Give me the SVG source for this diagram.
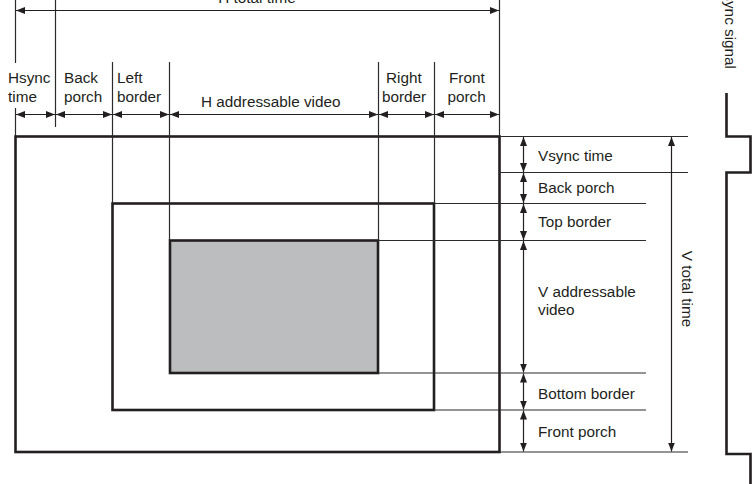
<svg xmlns="http://www.w3.org/2000/svg" width="754" height="484" viewBox="0 0 754 484">
<style>
text{font-family:"Liberation Sans",Arial,sans-serif;font-size:15.3px;fill:#231f20}
.thin{stroke:#2b2b2b;stroke-width:1.2;fill:none}
.thick{stroke:#231f20;stroke-width:2.6;fill:none}
.arr{stroke:#231f20;stroke-width:1.2;fill:none;marker-start:url(#ah);marker-end:url(#ah)}
</style>
<defs>
<marker id="ah" markerUnits="userSpaceOnUse" markerWidth="10" markerHeight="8" refX="9" refY="3.5" orient="auto-start-reverse" viewBox="0 0 10 7">
<path d="M0,0 L9,3.5 L0,7 z" fill="#231f20"/>
</marker>
</defs>
<rect width="754" height="484" fill="#fff"/>

<g id="frames">
<rect id="active" x="170" y="240.5" width="208" height="132.5" fill="#bcbdbf" stroke="#231f20" stroke-width="2.6"/>
<rect id="border-rect" x="112.5" y="203.5" width="321.5" height="206.5" class="thick"/>
<rect id="total-rect" x="15.5" y="136.5" width="484" height="315.5" class="thick"/>
</g>

<g id="guides">
<line class="thin" x1="15.5" y1="0" x2="15.5" y2="63"/>
<line class="thin" x1="15.5" y1="108" x2="15.5" y2="136"/>
<line class="thin" x1="55.5" y1="0" x2="55.5" y2="127"/>
<line class="thin" x1="112.5" y1="62" x2="112.5" y2="203"/>
<line class="thin" x1="169.5" y1="62" x2="169.5" y2="240"/>
<line class="thin" x1="378.5" y1="62" x2="378.5" y2="240"/>
<line class="thin" x1="434.5" y1="62" x2="434.5" y2="203"/>
<line class="thin" x1="499.5" y1="0" x2="499.5" y2="136"/>
<line class="thin" x1="499" y1="136.5" x2="688" y2="136.5"/>
<line class="thin" x1="499" y1="172.5" x2="688" y2="172.5"/>
<line class="thin" x1="434" y1="203.5" x2="646" y2="203.5"/>
<line class="thin" x1="378" y1="240.5" x2="646" y2="240.5"/>
<line class="thin" x1="378" y1="373" x2="646" y2="373"/>
<line class="thin" x1="434" y1="410" x2="646" y2="410"/>
<line class="thin" x1="499" y1="452" x2="688" y2="452"/>
</g>

<g id="connectors">
<line class="arr" x1="16" y1="10.5" x2="499" y2="10.5"/>
<line class="arr" x1="16" y1="114.5" x2="55" y2="114.5"/>
<line class="arr" x1="56" y1="114.5" x2="112" y2="114.5"/>
<line class="arr" x1="113" y1="114.5" x2="169" y2="114.5"/>
<line class="arr" x1="170" y1="114.5" x2="378" y2="114.5"/>
<line class="arr" x1="379" y1="114.5" x2="434" y2="114.5"/>
<line class="arr" x1="435" y1="114.5" x2="499" y2="114.5"/>
<line class="arr" x1="523.5" y1="137" x2="523.5" y2="172"/>
<line class="arr" x1="523.5" y1="173" x2="523.5" y2="203"/>
<line class="arr" x1="523.5" y1="204" x2="523.5" y2="240"/>
<line class="arr" x1="523.5" y1="241" x2="523.5" y2="372.5"/>
<line class="arr" x1="523.5" y1="373.5" x2="523.5" y2="409.5"/>
<line class="arr" x1="523.5" y1="410.5" x2="523.5" y2="451.5"/>
<line class="arr" x1="671.5" y1="137" x2="671.5" y2="451.5"/>
</g>

<g id="vsync-signal">
<path d="M726.5,93 V136.5 H750.5 V172.5 H726.5 V454 H750.5 V484" stroke="#231f20" stroke-width="2.6" fill="none"/>
<text transform="translate(724.5,69) rotate(90)" text-anchor="end">Vsync signal</text>
</g>

<g id="h-labels">
<text x="257" y="3" text-anchor="middle">H total time</text>
<text x="8" y="83">Hsync</text>
<text x="8" y="101.5">time</text>
<text x="64" y="83">Back</text>
<text x="64" y="101.5">porch</text>
<text x="117" y="83">Left</text>
<text x="117" y="101.5">border</text>
<text x="201" y="107">H addressable video</text>
<text x="386" y="83">Right</text>
<text x="382" y="101.5">border</text>
<text x="449" y="83">Front</text>
<text x="447.5" y="101.5">porch</text>
</g>

<g id="v-labels">
<text x="538" y="161">Vsync time</text>
<text x="538" y="193">Back porch</text>
<text x="538" y="227">Top border</text>
<text x="538" y="297">V addressable</text>
<text x="538" y="315">video</text>
<text x="538" y="399">Bottom border</text>
<text x="538" y="437">Front porch</text>
<text transform="translate(682,289) rotate(90)" text-anchor="middle">V total time</text>
</g>
</svg>
